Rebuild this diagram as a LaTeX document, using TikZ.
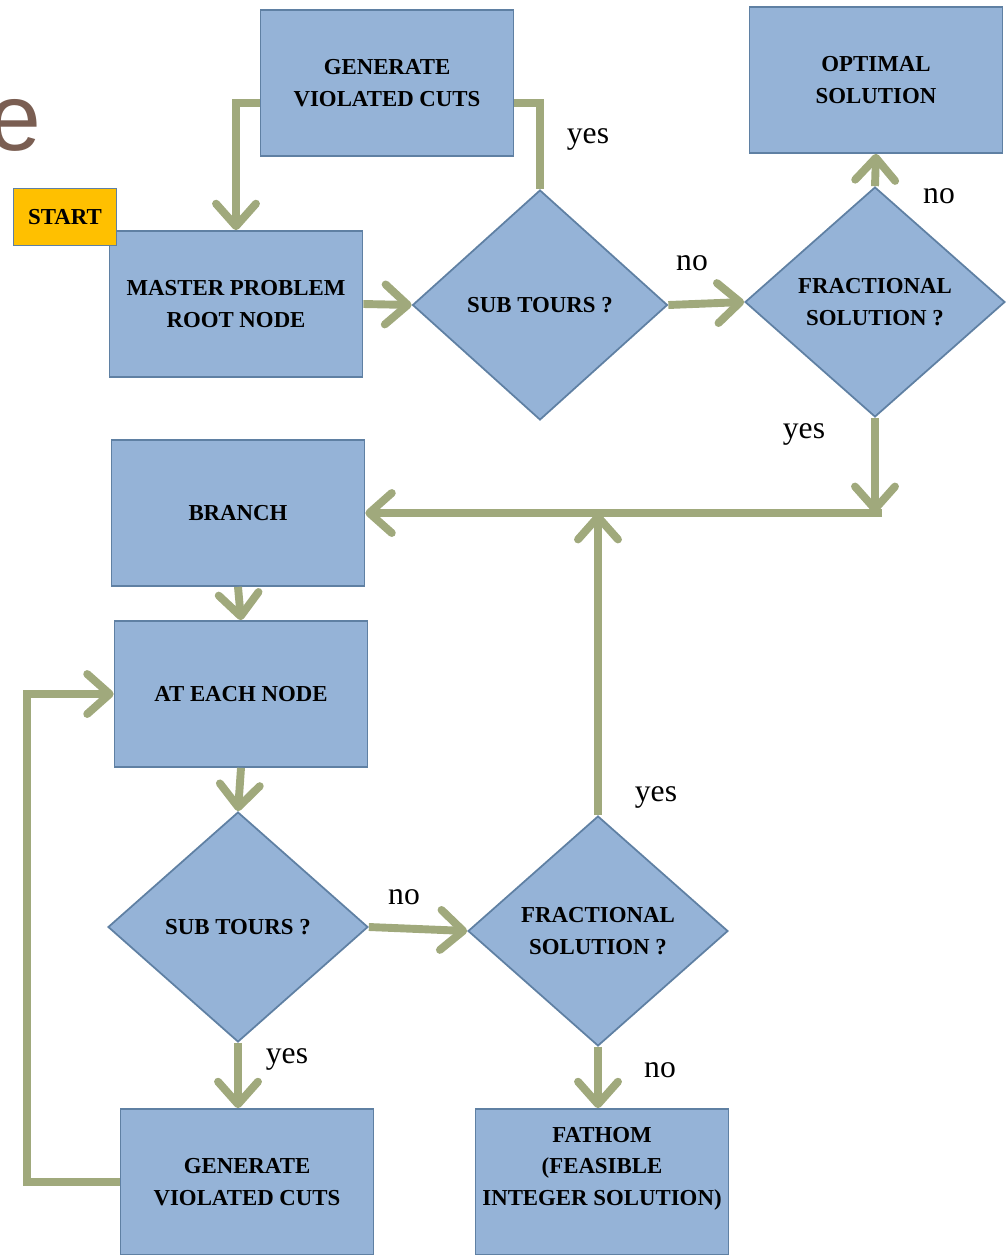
\documentclass[tikz,border=0pt]{standalone}
\usepackage{fontspec}
\setmainfont{Liberation Serif}
\newfontfamily\titlefont{Liberation Sans}
\usetikzlibrary{shapes.geometric,arrows.meta}

\definecolor{boxblue}{RGB}{149,179,215}
\definecolor{boxedge}{RGB}{95,128,163}
\definecolor{startgold}{RGB}{255,192,0}
\definecolor{flowgreen}{RGB}{160,169,124}
\definecolor{titlebrown}{RGB}{122,94,82}

\newcommand{\boxfont}{\fontsize{13}{18}\selectfont\bfseries}
\newcommand{\lblfont}{\fontsize{18}{20}\selectfont}

\begin{document}
\begin{tikzpicture}[
    x=0.02cm, y=-0.02cm, % one unit = one pixel of the slide
    block/.style={
        rectangle,
        draw=boxedge,
        fill=boxblue,
        line width=1pt,
        minimum width=5.06cm,
        minimum height=2.92cm,
        align=center,
        font=\boxfont
    },
    decision/.style={
        diamond,
        draw=boxedge,
        fill=boxblue,
        line width=1pt,
        inner sep=0pt,
        minimum width=5.1cm,
        minimum height=4.6cm,
        align=center,
        font=\boxfont
    },
    startbox/.style={
        rectangle,
        draw=boxedge,
        fill=startgold,
        line width=1pt,
        minimum width=2.06cm,
        minimum height=1.14cm,
        font=\boxfont
    },
    line/.style={
        draw=flowgreen,
        line width=4.5pt,
        -{Straight Barb[length=0.45cm,width=0.8cm,round]}
    },
    link/.style={
        draw=flowgreen,
        line width=4.5pt
    },
    lbl/.style={
        font=\lblfont,
        inner sep=0pt
    }
]
    \useasboundingbox (0,0) rectangle (1007,1255);

    % --- Title remnant ---
    \node [text=titlebrown, font=\titlefont\fontsize{54}{56}\selectfont,
           anchor=base east, inner sep=0pt] (title) at (42,150) {e};

    % --- Nodes ---

    % Top Row
    \node [block] (gencuts) at (387,83) {GENERATE\\VIOLATED CUTS};
    \node [block] (optimal) at (876,80) {OPTIMAL\\SOLUTION};
    \node [block] (master) at (236,304) {MASTER PROBLEM\\ROOT NODE};
    \node [startbox] (start) at (65,217) {START};
    \node [decision] (subroot) at (540,305) {SUB TOURS ?};
    \node [decision, minimum width=5.2cm] (fracroot) at (875,302) {FRACTIONAL\\SOLUTION ?};

    % Branching
    \node [block] (branch) at (238,513) {BRANCH};
    \node [block] (atnode) at (241,694) {AT EACH NODE};

    % Bottom Rows
    \node [decision, minimum width=5.2cm] (subnode) at (238,927) {SUB TOURS ?};
    \node [decision, minimum width=5.2cm] (fracnode) at (598,931) {FRACTIONAL\\SOLUTION ?};
    \node [block] (gencutsnode) at (247,1182) {GENERATE\\VIOLATED CUTS};
    \node [block] (fathom) at (602,1182) {FATHOM\\(FEASIBLE\\INTEGER SOLUTION)\\\mbox{}};

    % Junction on the branch line
    \coordinate (junction) at (882,513);

    % --- Connections ---

    % Root node loop
    \path [line] ([yshift=-0.4cm]gencuts.west) -| (master.north);
    \path [link] (subroot.north) |- ([yshift=-0.4cm]gencuts.east);
    \path [line] (master.east) -- (subroot.west);
    \path [line] (subroot.east) -- (fracroot.west);
    \path [line] (fracroot.north) -- (optimal.south);

    % Into the branch line
    \path [line] (fracroot.south) -- (fracroot.south |- junction);
    \path [line] (junction) -- (branch.east);
    \path [line] (fracnode.north) -- (fracnode.north |- junction);

    % Tree nodes
    \path [line] (branch.south) -- (atnode.north);
    \path [line] (atnode.south) -- (subnode.north);
    \path [line] (subnode.east) -- (fracnode.west);
    \path [line] (subnode.south) -- (subnode.south |- gencutsnode.north);
    \path [line] (fracnode.south) -- (fracnode.south |- fathom.north);
    \path [line] (gencutsnode.west) -| ([xshift=-1.74cm]atnode.west) -- (atnode.west);

    % --- Labels ---
    \node [lbl] (yesroot) at (588,139) {yes};
    \node [lbl] (noroot) at (692,263) {no};
    \node [lbl] (nooptimal) at (939,196) {no};
    \node [lbl] (yesbranch) at (804,434) {yes};
    \node [lbl] (yesback) at (656,797) {yes};
    \node [lbl] (nofrac) at (404,897) {no};
    \node [lbl] (yescuts) at (287,1059) {yes};
    \node [lbl] (nofathom) at (660,1070) {no};

\end{tikzpicture}
\end{document}
